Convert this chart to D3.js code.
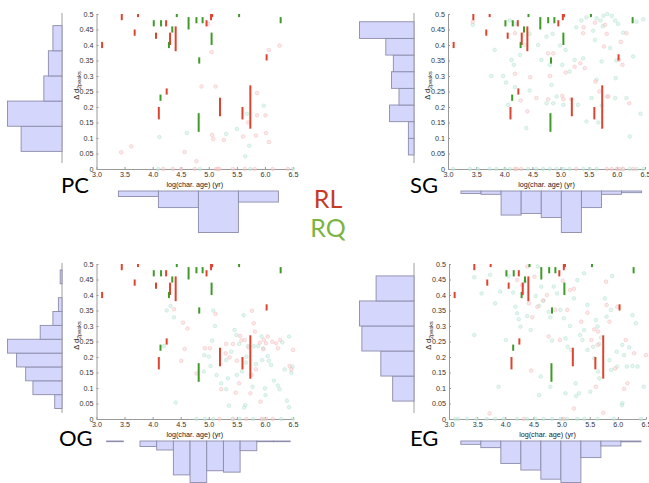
<!DOCTYPE html>
<html>
<head>
<meta charset="utf-8">
<script src="https://cdn.jsdelivr.net/npm/d3@7"></script>
<style>
  body { margin: 0; background: #fff; }
  svg { display: block; font-family: "Liberation Sans", Arial, sans-serif; }
  .axis path, .axis line { stroke: #9a9a9a; }
  .axis text { fill: #333; font-size: 7.2px; }
</style>
</head>
<body>
<div id="chart"></div>
<script>
// tick labels
const xTicks = [3, 3.5, 4, 4.5, 5, 5.5, 6, 6.5];
const yTicks = [0, 0.05, 0.1, 0.15, 0.2, 0.25, 0.3, 0.35, 0.4, 0.45, 0.5];

// observed ranges [log age, dmin, dmax] - same in every panel
const rlBars = [[3.10,0.39,0.41],[3.45,0.48,0.50],[3.68,0.43,0.45],[3.74,0.49,0.50],[4.06,0.42,0.44],
  [4.11,0.16,0.20],[4.24,0.46,0.48],[4.25,0.24,0.26],[4.31,0.40,0.44],[4.41,0.38,0.46],[4.96,0.46,0.48],
  [5.04,0.48,0.50],[5.06,0.49,0.50],[5.20,0.17,0.23],[5.60,0.16,0.20],[5.74,0.13,0.27],[6.03,0.35,0.37]];
const rqBars = [[4.02,0.46,0.48],[4.15,0.46,0.48],[4.14,0.22,0.24],[4.29,0.39,0.41],[4.35,0.44,0.46],
  [4.43,0.49,0.50],[4.64,0.45,0.49],[4.78,0.47,0.49],[4.83,0.34,0.36],[4.82,0.12,0.18],[4.89,0.47,0.49],
  [5.05,0.40,0.44],[5.54,0.49,0.50],[6.28,0.47,0.49]];

// simulated points [log age, d]
const pcPink = [[3.44,0.054],[3.62,0.073],[4.57,0.055],[4.78,0.025],[4.87,0.266],[5.12,0.266],[5.05,0.377],
  [4.99,0.468],[5.06,0.11],[5.08,0.097],[5.27,0.094],[5.61,0.105],[5.70,0.15],[5.84,0.108],[6.01,0.173],
  [5.86,0.245],[6.07,0.384],[6.26,0.398],[6.02,0.116],[6.07,0.087],[5.86,0.173],
  [4.19,0],[4.36,0],[4.51,0],[4.75,0],[5.13,0],[5.16,0],[5.19,0],[5.43,0],[5.64,0],[5.82,0],[6.14,0],[6.41,0]];
const pcTeal = [[4.12,0.103],[4.61,0.116],[5.31,0.113],[5.50,0.129],[5.68,0.178],[5.72,0.075],[5.65,0.041],
  [5.98,0.204],[4.10,0],[4.84,0],[5.74,0],[6.5,0]];

const sgPink = [[3.44,0.475],[4.19,0.307],[4.29,0.221],[4.41,0.186],[4.46,0.296],[4.57,0.229],[4.78,0.373],
  [4.81,0.30],[4.78,0.225],[5.03,0.236],[5.05,0.225],[5.09,0.311],[5.19,0.225],[5.25,0.33],[5.35,0.341],
  [5.43,0.325],[5.41,0.457],[5.40,0.438],[5.62,0.282],[5.69,0.25],[5.77,0.395],[5.83,0.234],[5.79,0.465],
  [5.82,0.436],[5.85,0.234],[6.04,0.352],[6.10,0.336],[6.07,0.41],[6.17,0.438],[6.22,0.212],[5.61,0.472],
  [4.19,0.438],[4.87,0.373],
  [4.19,0],[4.22,0],[4.30,0],[5.28,0],[5.82,0],[5.91,0],[6.00,0],[6.05,0],[6.11,0],[6.29,0]];
const sgTeal = [[3.44,0.465],[3.83,0.384],[3.77,0.30],[3.98,0.30],[4.03,0.279],[4.10,0.479],[4.19,0.468],
  [4.33,0.432],[4.36,0.40],[4.45,0.436],[4.13,0.352],[4.17,0.336],[4.19,0.264],[4.45,0.253],[4.28,0.368],
  [4.39,0.132],[4.60,0.40],[4.66,0.352],[4.75,0.427],[4.81,0.336],[4.86,0.436],[4.99,0.398],[4.84,0.271],
  [5.03,0.336],[5.09,0.384],[5.16,0.314],[5.28,0.457],[5.25,0.352],[5.37,0.479],[5.40,0.357],[5.31,0.207],
  [4.87,0.212],[4.75,0.212],[4.93,0.234],[5.46,0.489],[5.58,0.446],[5.64,0.486],[5.71,0.479],[5.76,0.494],
  [5.83,0.50],[5.91,0.494],[5.97,0.479],[6.02,0.468],[5.75,0.461],[5.61,0.416],[5.73,0.347],[5.64,0.288],
  [5.55,0.229],[5.67,0.15],[5.73,0.204],[5.99,0.35],[5.98,0.293],[5.97,0.229],[6.11,0.44],[6.29,0.363],
  [6.35,0.475],[6.47,0.483],[6.17,0.229],[6.42,0.178],[6.23,0.105],[5.88,0.39],[5.46,0.153],[5.05,0.207],
  [4.07,0.207],
  [3.09,0],[3.39,0],[3.53,0],[3.74,0],[3.86,0],[4.01,0],[4.10,0],[4.42,0],[4.57,0],[4.69,0],[4.81,0],
  [4.93,0],[5.05,0],[5.16,0],[5.40,0],[5.52,0],[5.64,0],[6.11,0],[6.23,0],[6.35,0],[6.47,0]];

const ogPink = [[4.38,0.354],[4.54,0.311],[4.62,0.292],[4.51,0.188],[4.57,0.226],[4.78,0.147],[5.12,0.339],
  [5.02,0.228],[5.22,0.096],[5.30,0.212],[5.31,0.242],[5.37,0.199],[5.43,0.242],[5.48,0.085],[5.54,0.115],
  [5.56,0.268],[5.58,0.253],[5.64,0.255],[5.71,0.231],[5.74,0.083],[5.77,0.349],[5.80,0.309],[5.82,0.282],
  [5.84,0.16],[5.91,0.246],[5.97,0.225],[5.98,0.255],[6.02,0.244],[6.05,0.266],[6.13,0.249],[6.20,0.244],
  [6.23,0.228],[6.27,0.255],[6.44,0.171],[6.47,0.16],[6.50,0.223],[5.92,0.056],[5.50,0.188],[5.76,0.142],
  [4.93,0.228],
  [5.19,0],[5.43,0],[5.67,0],[5.94,0],[6.02,0],[6.14,0]];
const ogTeal = [[4.32,0.365],[4.38,0.328],[4.25,0.35],[4.41,0.053],[4.20,0.235],[5.08,0.35],[5.11,0.30],
  [4.92,0.206],[5.06,0.253],[5.03,0.171],[5.00,0.201],[4.91,0.153],[5.14,0.142],[5.22,0.115],[5.34,0.131],
  [5.31,0.096],[5.36,0.043],[5.31,0.19],[5.40,0.217],[5.49,0.271],[5.46,0.287],[5.54,0.242],[5.59,0.153],
  [5.65,0.045],[5.63,0.037],[5.62,0.335],[5.66,0.182],[5.67,0.201],[5.70,0.235],[5.78,0.104],[5.80,0.235],
  [5.88,0.235],[5.94,0.266],[6.00,0.099],[6.01,0.077],[6.05,0.203],[6.07,0.188],[6.11,0.174],[6.16,0.124],
  [6.23,0.108],[6.26,0.096],[6.35,0.16],[6.43,0.266],[6.39,0.059],[6.43,0.038],[6.47,0.149],[6.49,0.169],
  [6.31,0.247],[5.95,0.19],[5.97,0.228],[5.84,0.177],[5.50,0.142],
  [4.78,0],[4.93,0],[5.08,0],[5.43,0],[5.55,0],[5.79,0],[5.97,0],[6.29,0],[6.50,0]];

const egPink = [[3.72,0.018],[4.21,0.448],[4.30,0.432],[4.39,0.492],[4.42,0.373],[4.48,0.328],[4.46,0.156],
  [4.52,0.459],[4.57,0.362],[4.67,0.382],[4.74,0.40],[4.77,0.266],[4.89,0.352],[4.97,0.255],[5.02,0.446],
  [5.10,0.352],[5.15,0.416],[5.22,0.034],[5.35,0.314],[5.46,0.343],[5.53,0.255],[5.58,0.289],[5.61,0.104],
  [5.65,0.282],[5.64,0.239],[5.74,0.02],[5.79,0.443],[5.80,0.368],[5.85,0.314],[5.95,0.163],[5.99,0.362],
  [6.11,0.097],[6.14,0.255],[6.17,0.115],[6.29,0.212],[6.50,0.206],[5.22,0.42],
  [4.33,0],[5.04,0]];
const egTeal = [[3.45,0.457],[3.58,0.405],[3.45,0.271],[3.73,0.465],[3.82,0.373],[3.88,0.104],[3.91,0.411],
  [4.01,0.255],[4.06,0.461],[4.14,0.408],[4.18,0.362],[4.21,0.341],[4.24,0.322],[4.27,0.298],[4.35,0.443],
  [4.45,0.287],[4.39,0.332],[4.54,0.397],[4.60,0.365],[4.58,0.492],[4.64,0.427],[4.68,0.382],[4.77,0.346],
  [4.80,0.328],[4.83,0.253],[4.86,0.427],[4.92,0.405],[4.98,0.352],[5.04,0.325],[5.07,0.26],[5.11,0.233],
  [5.15,0.30],[5.17,0.223],[5.22,0.389],[5.25,0.115],[5.28,0.448],[5.33,0.271],[5.37,0.255],[5.40,0.47],
  [5.46,0.368],[5.40,0.287],[5.51,0.088],[5.56,0.233],[5.58,0.196],[5.61,0.319],[5.64,0.298],[5.65,0.153],
  [5.67,0.131],[5.70,0.263],[5.67,0.242],[5.77,0.389],[5.80,0.33],[5.88,0.352],[5.85,0.19],[5.88,0.158],
  [5.90,0.461],[5.98,0.217],[5.99,0.169],[6.07,0.045],[6.08,0.051],[6.11,0.206],[6.08,0.239],[6.16,0.169],
  [6.20,0.231],[6.26,0.335],[6.32,0.309],[6.26,0.171],[6.46,0.104],[6.35,0.169],[5.46,0.223],[4.63,0.137],
  [4.60,0.077],[5.07,0.083],[4.80,0.104],[5.26,0.074],[5.31,0.083],
  [3.11,0],[3.17,0],[3.32,0],[3.49,0],[3.67,0],[3.82,0],[3.97,0],[4.21,0],[4.39,0],[4.54,0],[4.68,0],
  [4.83,0],[4.98,0],[5.10,0],[5.28,0],[5.40,0],[5.64,0],[5.93,0],[6.41,0]];

// marginal histograms: first/last bin edge + counts (left: d, low to high; bottom: log age)
const pcLeft = { lo: 0.039, hi: 0.461, counts: [9, 12, 4, 3, 2] };
const sgLeft = { lo: 0.027, hi: 0.474, counts: [3, 3, 13, 8, 12, 11, 15, 29] };
const ogLeft = { lo: 0.015, hi: 0.480, counts: [4, 16, 20, 25, 30, 12, 5, 2, 0, 1] };
const egLeft = { lo: 0.040, hi: 0.460, counts: [9, 14, 22, 23, 16] };
const pcBottom = { lo: 3.39, hi: 6.24, counts: [2, 6, 15, 4] };
const sgBottom = { lo: 3.23, hi: 6.44, counts: [3, 4, 29, 27, 32, 50, 20, 4, 2] };
const ogBottom = { lo: 3.18, hi: 6.45, counts: [1, 0, 8, 13, 49, 60, 43, 45, 14, 1, 1] };
const egBottom = { lo: 3.21, hi: 6.41, counts: [4, 8, 27, 35, 46, 50, 20, 6, 1] };

const panels = [
  { name: "PC", pink: pcPink, teal: pcTeal, left: pcLeft, bottom: pcBottom, x0: 96.5, x1: 293, y0: 169, y1: 14, hx: 62, hb: 191, lx: 61, ly: 193 },
  { name: "SG", pink: sgPink, teal: sgTeal, left: sgLeft, bottom: sgBottom, x0: 448, x1: 645, y0: 169, y1: 14, hx: 414, hb: 191, lx: 410, ly: 193 },
  { name: "OG", pink: ogPink, teal: ogTeal, left: ogLeft, bottom: ogBottom, x0: 96.5, x1: 293, y0: 419, y1: 264, hx: 62, hb: 441, lx: 59, ly: 446 },
  { name: "EG", pink: egPink, teal: egTeal, left: egLeft, bottom: egBottom, x0: 449, x1: 646, y0: 419, y1: 264, hx: 414, hb: 441, lx: 410, ly: 446 }
];

const svg = d3.select("#chart").append("svg")
  .attr("width", 649).attr("height", 483);

const histFill = "#d5d6fb", histStroke = "#8c8cab";

panels.forEach(p => {
  const x = d3.scaleLinear().domain([3, 6.5]).range([p.x0, p.x1]);
  const y = d3.scaleLinear().domain([0, 0.5]).range([p.y0, p.y1]);
  const g = svg.append("g");

  // left histogram
  const hy = d3.scaleLinear().domain([0, 0.5]).range([p.y0 - 6, p.y1]);
  const lw = d3.scaleLinear().domain([0, d3.max(p.left.counts)]).range([0, 54.5]);
  const lstep = (p.left.hi - p.left.lo) / p.left.counts.length;
  g.append("line")
    .attr("x1", p.hx).attr("x2", p.hx)
    .attr("y1", p.y1 - 1).attr("y2", p.y0 - 6)
    .attr("stroke", "#a0a0a0");
  g.selectAll(".lbar").data(p.left.counts).enter().append("rect")
    .attr("x", d => p.hx - lw(d))
    .attr("y", (d, i) => hy(p.left.lo + (i + 1) * lstep))
    .attr("width", d => lw(d))
    .attr("height", (d, i) => hy(p.left.lo + i * lstep) - hy(p.left.lo + (i + 1) * lstep))
    .attr("fill", histFill).attr("stroke", histStroke).attr("stroke-width", 0.9)
    .style("display", d => d > 0 ? null : "none");

  // bottom histogram
  const bd = d3.scaleLinear().domain([0, d3.max(p.bottom.counts)]).range([0, 41.5]);
  const bstep = (p.bottom.hi - p.bottom.lo) / p.bottom.counts.length;
  g.selectAll(".bbar").data(p.bottom.counts).enter().append("rect")
    .attr("x", (d, i) => x(p.bottom.lo + i * bstep))
    .attr("y", p.hb)
    .attr("width", (d, i) => x(p.bottom.lo + (i + 1) * bstep) - x(p.bottom.lo + i * bstep))
    .attr("height", d => Math.max(bd(d), 0.6))
    .attr("fill", histFill).attr("stroke", histStroke).attr("stroke-width", 0.9)
    .style("display", d => d > 0 ? null : "none");

  // axes
  g.append("g").attr("class", "axis")
    .attr("transform", "translate(" + p.x0 + ",0)")
    .call(d3.axisLeft(y).tickValues(yTicks).tickSize(-2).tickSizeOuter(0)
      .tickFormat(d => String(+d.toFixed(2))));
  g.append("g").attr("class", "axis")
    .attr("transform", "translate(0," + p.y0 + ")")
    .call(d3.axisBottom(x).tickValues(xTicks).tickSize(-2).tickSizeOuter(0).tickPadding(2.5));

  // simulated points
  g.selectAll(".tp").data(p.teal).enter().append("circle")
    .attr("cx", d => x(d[0])).attr("cy", d => y(d[1])).attr("r", 1.8)
    .attr("fill", "#c9eee0").attr("fill-opacity", 0.5)
    .attr("stroke", "#a9e0cc").attr("stroke-opacity", 0.75).attr("stroke-width", 0.6);
  g.selectAll(".pp").data(p.pink).enter().append("circle")
    .attr("cx", d => x(d[0])).attr("cy", d => y(d[1])).attr("r", 1.8)
    .attr("fill", "#f9d3d3").attr("fill-opacity", 0.5)
    .attr("stroke", "#f2b2b2").attr("stroke-opacity", 0.75).attr("stroke-width", 0.6);

  // observed ranges
  g.selectAll(".rq").data(rqBars).enter().append("line")
    .attr("x1", d => x(d[0])).attr("x2", d => x(d[0]))
    .attr("y1", d => y(d[1])).attr("y2", d => y(d[2]))
    .attr("stroke", "#3f9a2a").attr("stroke-width", 2);
  g.selectAll(".rl").data(rlBars).enter().append("line")
    .attr("x1", d => x(d[0])).attr("x2", d => x(d[0]))
    .attr("y1", d => y(d[1])).attr("y2", d => y(d[2]))
    .attr("stroke", "#dd4430").attr("stroke-width", 2);

  // axis titles
  const yl = g.append("text")
    .attr("transform", "translate(" + (p.x0 - 18) + "," + ((p.y0 + p.y1) / 2 - 6) + ") rotate(-90)")
    .attr("text-anchor", "middle")
    .style("font-size", "7.5px").attr("fill", "#222");
  yl.append("tspan").text("Δ d");
  yl.append("tspan").attr("dy", 2).style("font-size", "5.5px").text("2peaks");

  g.append("text")
    .attr("x", (p.x0 + p.x1) / 2).attr("y", p.y0 + 18)
    .attr("text-anchor", "middle")
    .style("font-size", "7.2px").attr("fill", "#222")
    .text("log(char. age) (yr)");

  // panel name
  g.append("text")
    .attr("x", p.lx).attr("y", p.ly)
    .style("font-family", "Lato, 'Open Sans', sans-serif")
    .style("font-size", "22px").attr("fill", "#000")
    .text(p.name);
});

// centre legend
svg.append("text").attr("x", 328).attr("y", 208).attr("text-anchor", "middle")
  .style("font-family", "Lato, 'Open Sans', sans-serif").style("font-size", "25px")
  .attr("fill", "#c63b26").text("RL");
svg.append("text").attr("x", 328).attr("y", 237).attr("text-anchor", "middle")
  .style("font-family", "Lato, 'Open Sans', sans-serif").style("font-size", "25px")
  .attr("fill", "#7cb442").text("RQ");
</script>
</body>
</html>
